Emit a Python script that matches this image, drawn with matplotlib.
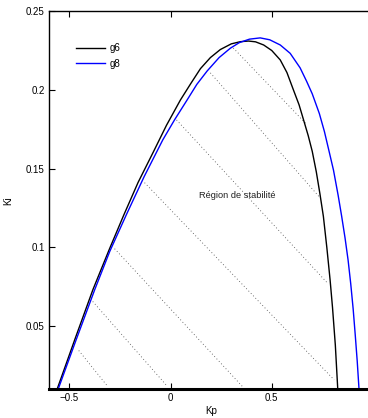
import matplotlib
matplotlib.use("Agg")
import matplotlib.pyplot as plt

plt.rcParams['font.family'] = ['Liberation Sans', 'DejaVu Sans']

# g6 curve (Kp, Ki)
g6_kp = [-0.56, -0.47, -0.383, -0.30, -0.231, -0.16, -0.084, -0.02, 0.049, 0.10, 0.148, 0.197, 0.246,
         0.30, 0.345, 0.385, 0.42, 0.46, 0.50, 0.542, 0.575, 0.607, 0.635, 0.657, 0.68, 0.70, 0.72,
         0.738, 0.755, 0.772, 0.788, 0.80, 0.814, 0.826]
g6_ki = [0.01, 0.0425, 0.0733, 0.0995, 0.1205, 0.1413, 0.1608, 0.1775, 0.1936, 0.2040, 0.2135, 0.2205, 0.2256,
         0.2292, 0.2306, 0.2310, 0.2305, 0.2285, 0.2250, 0.219, 0.211, 0.200, 0.1905, 0.181, 0.171, 0.161, 0.148,
         0.134, 0.1197, 0.100, 0.0796, 0.062, 0.038, 0.01]

# g8 curve (Kp, Ki)
g8_kp = [-0.555, -0.47, -0.374, -0.30, -0.218, -0.13, -0.038, 0.02, 0.082, 0.13, 0.181, 0.24, 0.296,
         0.34, 0.39, 0.443, 0.49, 0.542, 0.591, 0.640, 0.672, 0.70, 0.735, 0.760, 0.785, 0.805, 0.828,
         0.845, 0.862, 0.877, 0.890, 0.902, 0.912, 0.922, 0.931]
g8_ki = [0.01, 0.040, 0.0733, 0.0975, 0.1208, 0.145, 0.1683, 0.181, 0.1936, 0.2035, 0.2120, 0.2205, 0.2265,
         0.2300, 0.2322, 0.2330, 0.2318, 0.2285, 0.2232, 0.2140, 0.2055, 0.1975, 0.185, 0.1736, 0.160, 0.149, 0.133,
         0.120, 0.106, 0.092, 0.077, 0.061, 0.045, 0.028, 0.01]

# hatching lines in the stability region: (kp_start, ki_start, kp_end, ki_end)
hatch_kp0 = [-0.453, -0.384, -0.276, -0.128, 0.030, 0.197, 0.310]
hatch_ki0 = [0.0346, 0.0657, 0.0992, 0.1411, 0.1809, 0.2108, 0.2266]
hatch_kp1 = [-0.310, -0.015, 0.355, 0.808, 0.773, 0.734, 0.670]
hatch_ki1 = [0.0118, 0.0118, 0.0118, 0.016, 0.0777, 0.1322, 0.1784]

x_ticks = [-0.5, 0, 0.5]
x_ticklabels = ['\u22120.5', '0', '0.5']
y_ticks = [0.05, 0.1, 0.15, 0.2, 0.25]
y_ticklabels = ['0.05', '0.1', '0.15', '0.2', '0.25']

fig = plt.figure(figsize=(3.68, 4.18), dpi=100)
ax = fig.add_axes([49/368, 1 - 389.3/418, (373 - 49)/368, (389.3 - 11.1)/418])

for a0, b0, a1, b1 in zip(hatch_kp0, hatch_ki0, hatch_kp1, hatch_ki1):
    ax.plot([a0, a1], [b0, b1], color='#444444', lw=0.6, linestyle=(0, (1, 3)))

ax.plot(g6_kp, g6_ki, color='black', lw=1.0, label='g6')
ax.plot(g8_kp, g8_ki, color='blue', lw=1.0, label='g8')

ax.text(0.33, 0.1328, 'Région de stabilité', fontsize=6.7, ha='center', va='center', color='#222222')

ax.set_xlim(-0.6, 1.0)
ax.set_ylim(0.01, 0.25)
ax.set_xticks(x_ticks)
ax.set_xticklabels(x_ticklabels)
ax.set_yticks(y_ticks)
ax.set_yticklabels(y_ticklabels)
ax.tick_params(direction='in', length=4, width=0.8, labelsize=7, top=True, right=False, pad=3)
ax.set_xlabel('Kp', fontsize=7, labelpad=2)
ax.set_ylabel('Ki', fontsize=7, labelpad=9)

ax.spines['bottom'].set_linewidth(2.2)
ax.spines['left'].set_linewidth(1.0)
ax.spines['top'].set_linewidth(1.0)
ax.spines['right'].set_visible(False)

leg = ax.legend(loc='upper left', bbox_to_anchor=(0.072, 0.925), frameon=False, fontsize=7,
                handlelength=3.0, handletextpad=0.4, labelspacing=0.55, borderaxespad=0)

fig.savefig('out.png', dpi=100)
